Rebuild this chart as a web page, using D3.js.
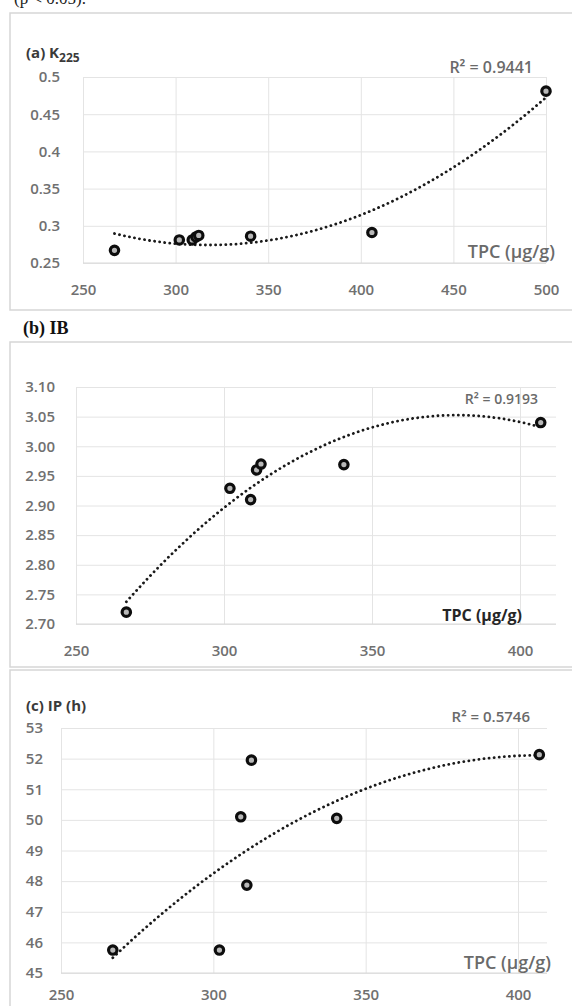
<!DOCTYPE html>
<meta charset="utf-8">
<head>
<style>
body { margin: 0; background: #fff; }
svg text { font-family: "Open Sans", "Noto Sans", sans-serif; }
</style>
<script src="https://d3js.org/d3.v7.min.js"></script>
</head>
<body>
<div id="chart"></div>
<script>
// values
var tpcA = [267, 302, 309, 311, 312.5, 340.5, 406, 500];
var k225 = [0.267, 0.281, 0.281, 0.285, 0.287, 0.286, 0.291, 0.481];
var tpcBC = [267, 302, 309, 311, 312.5, 340.5, 407];
var ib = [2.72, 2.929, 2.91, 2.96, 2.97, 2.969, 3.04];
var ip = [45.75, 45.75, 50.1, 47.87, 51.95, 50.05, 52.13];

var xTicksA = [250, 300, 350, 400, 450, 500];
var yTicksA = [0.25, 0.3, 0.35, 0.4, 0.45, 0.5];
var xTicksBC = [250, 300, 350, 400];
var yTicksB = [2.70, 2.75, 2.80, 2.85, 2.90, 2.95, 3.00, 3.05, 3.10];
var yTicksC = [45, 46, 47, 48, 49, 50, 51, 52, 53];

var width = 572, height = 1006;

var svg = d3.select("#chart").append("svg")
    .attr("width", width)
    .attr("height", height);

// cut-off line of text from the page above
svg.append("text")
    .attr("x", 14).attr("y", 4)
    .style("font-family", "'Liberation Serif', serif")
    .style("font-size", "17px")
    .attr("fill", "#222")
    .text("(p < 0.05).");

// 2nd order least squares fit, like the spreadsheet trendline
function quadFit(xs, ys) {
  var n = xs.length, m = d3.mean(xs);
  var s = [0, 0, 0, 0, 0], t = [0, 0, 0];
  for (var i = 0; i < n; i++) {
    var u = xs[i] - m;
    for (var k = 0; k < 5; k++) s[k] += Math.pow(u, k);
    for (var k = 0; k < 3; k++) t[k] += ys[i] * Math.pow(u, k);
  }
  var A = [[s[0], s[1], s[2], t[0]], [s[1], s[2], s[3], t[1]], [s[2], s[3], s[4], t[2]]];
  for (var c = 0; c < 3; c++) {
    for (var r = c + 1; r < 3; r++) {
      var f = A[r][c] / A[c][c];
      for (var k = c; k < 4; k++) A[r][k] -= f * A[c][k];
    }
  }
  var b = [0, 0, 0];
  for (var r = 2; r >= 0; r--) {
    var v = A[r][3];
    for (var k = r + 1; k < 3; k++) v -= A[r][k] * b[k];
    b[r] = v / A[r][r];
  }
  return function(x) { var u = x - m; return b[0] + b[1] * u + b[2] * u * u; };
}

function panel(cfg) {
  var g = svg.append("g");

  g.append("rect")
      .attr("x", 10).attr("y", cfg.boxTop)
      .attr("width", 580).attr("height", cfg.boxBottom - cfg.boxTop)
      .attr("fill", "none")
      .attr("stroke", "#d6d6d6")
      .attr("stroke-width", 1.5);

  var x = d3.scaleLinear().domain([cfg.xTicks[0], cfg.xTicks[cfg.xTicks.length - 1]]).range(cfg.xRange);
  var y = d3.scaleLinear().domain([cfg.yTicks[0], cfg.yTicks[cfg.yTicks.length - 1]]).range(cfg.yRange);

  // horizontal grid
  g.append("g")
      .attr("transform", "translate(" + cfg.xRange[0] + ",0)")
      .call(d3.axisRight(y).tickValues(cfg.yTicks).tickSize(cfg.gridRight - cfg.xRange[0]).tickFormat(""))
      .call(function(a) { a.select(".domain").remove(); a.selectAll("line").attr("stroke", "#e4e4e4"); });

  // vertical grid
  g.append("g")
      .attr("transform", "translate(0," + cfg.yRange[1] + ")")
      .call(d3.axisBottom(x).tickValues(cfg.xTicks).tickSize(cfg.yRange[0] - cfg.yRange[1]).tickFormat(""))
      .call(function(a) { a.select(".domain").remove(); a.selectAll("line").attr("stroke", "#e4e4e4"); });

  // bottom axis line
  g.append("line")
      .attr("x1", cfg.xRange[0]).attr("x2", cfg.gridRight)
      .attr("y1", cfg.yRange[0]).attr("y2", cfg.yRange[0])
      .attr("stroke", "#d9d9d9");

  // tick labels
  g.append("g")
      .attr("transform", "translate(" + cfg.yLabelX + ",0)")
      .call(d3.axisLeft(y).tickValues(cfg.yTicks).tickSize(0).tickFormat(cfg.yFormat))
      .call(function(a) {
        a.select(".domain").remove();
        a.selectAll("text").attr("fill", "#707070").style("font-size", "15px").style("font-weight", "600")
          .style("font-family", "'Open Sans', sans-serif");
      });

  g.append("g")
      .attr("transform", "translate(0," + cfg.xLabelY + ")")
      .call(d3.axisBottom(x).tickValues(cfg.xTicks).tickSize(0).tickFormat(d3.format("d")))
      .call(function(a) {
        a.select(".domain").remove();
        a.selectAll("text").attr("fill", "#707070").attr("dy", "0.35em").style("font-size", "15px").style("font-weight", "600")
          .style("font-family", "'Open Sans', sans-serif");
      });

  // trendline
  var fit = quadFit(cfg.xs, cfg.ys);
  var x0 = d3.min(cfg.xs), x1 = d3.max(cfg.xs);
  var pts = d3.range(0, 101).map(function(i) { var v = x0 + (x1 - x0) * i / 100; return [v, fit(v)]; });
  g.append("path")
      .datum(pts)
      .attr("fill", "none")
      .attr("stroke", "#1a1a1a")
      .attr("stroke-width", 2.8)
      .attr("stroke-linecap", "round")
      .attr("stroke-dasharray", "0.1,5")
      .attr("d", d3.line().x(function(d) { return x(d[0]); }).y(function(d) { return y(d[1]); }));

  // points
  g.selectAll("circle.pt")
      .data(cfg.xs.map(function(v, i) { return [v, cfg.ys[i]]; }))
      .enter().append("circle")
      .attr("class", "pt")
      .attr("cx", function(d) { return x(d[0]); })
      .attr("cy", function(d) { return y(d[1]); })
      .attr("r", 4.2)
      .attr("fill", "#b8b8b8")
      .attr("stroke", "#0d0d0d")
      .attr("stroke-width", 3.2);

  // R²
  g.append("text")
      .attr("x", cfg.r2X).attr("y", cfg.r2Y)
      .attr("dy", "0.35em")
      .attr("text-anchor", "end")
      .attr("fill", "#6a6a6a")
      .style("font-size", cfg.r2Size)
      .style("font-weight", "600")
      .text("R² = " + cfg.r2);

  // axis title
  g.append("text")
      .attr("x", cfg.tpcX).attr("y", cfg.tpcY)
      .attr("dy", "0.35em")
      .attr("text-anchor", "end")
      .attr("fill", cfg.tpcColor)
      .style("font-size", cfg.tpcSize)
      .style("font-weight", cfg.tpcWeight)
      .text("TPC (µg/g)");

  return g;
}

var gA = panel({
  boxTop: 13, boxBottom: 310,
  xs: tpcA, ys: k225, xTicks: xTicksA, yTicks: yTicksA,
  xRange: [83, 546], yRange: [263, 77], gridRight: 546,
  yLabelX: 63, xLabelY: 287, yFormat: d3.format("~g"),
  r2: "0.9441", r2X: 533, r2Y: 67, r2Size: "16px",
  tpcX: 555, tpcY: 252, tpcColor: "#6a6a6a", tpcSize: "18px", tpcWeight: "600"
});
var tA = gA.append("text")
    .attr("x", 26).attr("y", 58)
    .attr("fill", "#3a3a3a")
    .style("font-size", "15px")
    .style("font-weight", "700");
tA.append("tspan").text("(a) K");
tA.append("tspan").attr("dy", 4).style("font-size", "12px").text("225");

var gB = panel({
  boxTop: 342, boxBottom: 667,
  xs: tpcBC, ys: ib, xTicks: xTicksBC, yTicks: yTicksB,
  xRange: [76, 520], yRange: [624, 387], gridRight: 556,
  yLabelX: 58, xLabelY: 648, yFormat: d3.format(".2f"),
  r2: "0.9193", r2X: 538, r2Y: 399, r2Size: "14px",
  tpcX: 522, tpcY: 615, tpcColor: "#262626", tpcSize: "16px", tpcWeight: "700"
});
svg.append("text")
    .attr("x", 23).attr("y", 334)
    .attr("fill", "#111")
    .style("font-family", "'Liberation Serif', serif")
    .style("font-size", "18px")
    .style("font-weight", "700")
    .text("(b)  IB");

var gC = panel({
  boxTop: 670, boxBottom: 1012,
  xs: tpcBC, ys: ip, xTicks: xTicksBC, yTicks: yTicksC,
  xRange: [61, 518], yRange: [973, 728], gridRight: 547,
  yLabelX: 46, xLabelY: 992, yFormat: d3.format("d"),
  r2: "0.5746", r2X: 530, r2Y: 717, r2Size: "15px",
  tpcX: 551, tpcY: 963, tpcColor: "#6a6a6a", tpcSize: "18px", tpcWeight: "600"
});
gC.append("text")
    .attr("x", 26).attr("y", 711)
    .attr("fill", "#3a3a3a")
    .style("font-size", "15px")
    .style("font-weight", "700")
    .text("(c) IP (h)");
</script>
</body>
